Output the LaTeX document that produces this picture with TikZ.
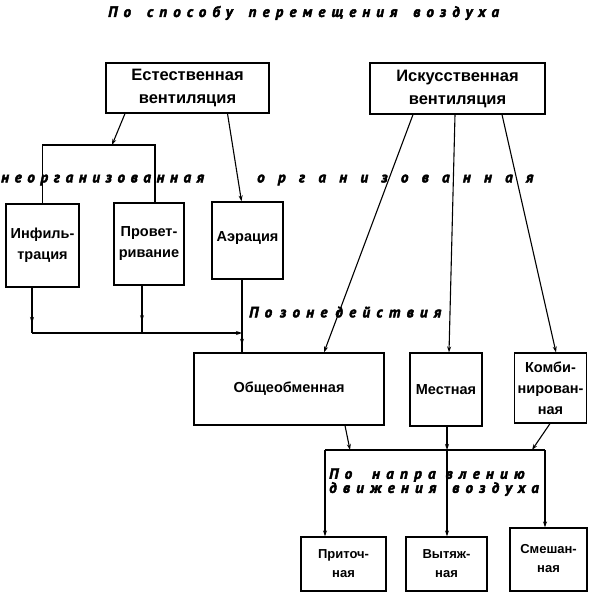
\documentclass[tikz,border=0pt]{standalone}
\usepackage{fontspec}
\setmainfont{Liberation Sans}
\newfontfamily\labfont{PT Sans}
\usetikzlibrary{calc,arrows.meta,decorations.markings}
\newcommand{\lab}[1]{\labfont\bfseries\itshape\fontsize{15}{15}\selectfont\addfontfeature{LetterSpace=#1,FakeBold=3}}
\begin{document}
\begin{tikzpicture}[x=1pt,y=-1pt,
  box/.style={draw, line width=1.2pt, inner sep=0pt, align=center, font=\bfseries\fontsize{16.5}{23}\selectfont},
  sbox/.style={box, font=\bfseries\fontsize{14.5}{21}\selectfont},
  bbox/.style={box, font=\bfseries\fontsize{13}{19}\selectfont},
  ln/.style={line width=1.1pt},
  arr/.style={ln, -{Stealth[length=6pt,width=4pt]}},
  arrat/.style={ln, postaction={decorate}, decoration={markings, mark=at position #1 with {\arrow{Stealth[length=6pt,width=4pt]}}}},
  lbl/.style={inner sep=0pt, anchor=west}]
\useasboundingbox (0,0) rectangle (588,593);

% boxes
\node[box, minimum width=163pt, minimum height=50pt] (est) at (187.5,88) {Естественная\\вентиляция};
\node[box, minimum width=175pt, minimum height=51pt] (isk) at (457.5,88.5) {Искусственная\\вентиляция};
\node[sbox, minimum width=73pt, minimum height=83pt] (inf) at (42.5,245.5) {Инфиль-\\трация};
\node[sbox, minimum width=70pt, minimum height=82pt] (prov) at (149,244) {Провет-\\ривание};
\node[sbox, minimum width=71pt, minimum height=77pt] (aer) at (247.5,240.5) {\raisebox{8pt}{Аэрация}};
\node[sbox, minimum width=190pt, minimum height=72pt] (obsh) at (289,389) {Общеобменная};
\node[sbox, minimum width=72pt, minimum height=73pt] (mest) at (446,389.5) {Местная};
\node[sbox, minimum width=72pt, minimum height=70pt] (komb) at (550.5,388) {Комби-\\нирован-\\ная};
\node[bbox, minimum width=85pt, minimum height=54pt] (prit) at (343.5,564) {\raisebox{-3pt}{\begin{tabular}{@{}c@{}}Приточ-\\ная\end{tabular}}};
\node[bbox, minimum width=81pt, minimum height=54pt] (vyt) at (446.5,564) {\raisebox{-3pt}{\begin{tabular}{@{}c@{}}Вытяж-\\ная\end{tabular}}};
\node[bbox, minimum width=77pt, minimum height=63pt] (smesh) at (548.5,559.5) {\raisebox{-5pt}{\begin{tabular}{@{}c@{}}Смешан-\\ная\end{tabular}}};

% labels
\node[lbl] (title) at (108,13) {\lab{41}По\hspace{16pt}способу\hspace{16pt}перемещения\hspace{16pt}воздуха};
\node[lbl] (neorg) at (1,180) {\lab{38}неорганизованная};
\node[lbl] (org) at (257,180) {\lab{89}организованная};
\node[lbl] (zona) at (249,312) {\lab{42}По\hspace{8pt}зоне\hspace{8pt}действия};
\node[lbl] (napr1) at (329,475) {\lab{42}По\hspace{20pt}напра\hspace{10pt}влению};
\node[lbl] (napr2) at (329,489) {\lab{42}движения\hspace{16pt}воздуха};

% natural ventilation
\coordinate (bl) at (42.5,145);
\coordinate (br) at (155,145);
\coordinate (ba) at (112,145);
\draw[ln] (inf.north) -- (bl) -- (br) -- (br |- prov.north);
\draw[arr] ($(est.south)+(-62.5,0)$) -- (ba);
\draw[arr] ($(est.south)+(40,0)$) -- ($(aer.north)+(-6,0)$);

\coordinate (c1) at (32,333);
\coordinate (c2) at (142,333);
\coordinate (j) at (242,333);
\draw[arrat=0.78] ($(inf.south)+(-10.5,0)$) -- (c1);
\draw[arrat=0.75] ($(prov.south)+(-7,0)$) -- (c2);
\draw[arr] (c1) -- (j);
\draw[ln] ($(aer.south)+(-5.5,0)$) -- (j);
\draw[arrat=0.6] (j) -- ($(obsh.north)+(-47,0)$);

% artificial ventilation
\draw[arr] ($(isk.south)+(-44.5,0)$) -- ($(obsh.north)+(35,0)$);
\draw[arr] ($(isk.south)+(-2.5,0)$) -- ($(mest.north)+(3,0)$);
\draw[arr] ($(isk.south)+(44.5,0)$) -- ($(komb.north)+(5.5,0)$);

% bottom
\coordinate (hl) at (325,450);
\coordinate (hr) at (545,450);
\coordinate (k1) at (350,450);
\coordinate (k2) at (447,450);
\coordinate (k3) at (532,450);
\draw[ln] (hl) -- (hr);
\draw[arr] ($(obsh.south)+(56,0)$) -- (k1);
\draw[arr] ($(mest.south)+(1,0)$) -- (k2);
\draw[arr] ($(komb.south)+(-0.5,0)$) -- (k3);
\draw[arr] (hl) -- (hl |- prit.north);
\draw[arr] (k2) -- (k2 |- vyt.north);
\draw[arr] (hr) -- (hr |- smesh.north);
\end{tikzpicture}
\end{document}
